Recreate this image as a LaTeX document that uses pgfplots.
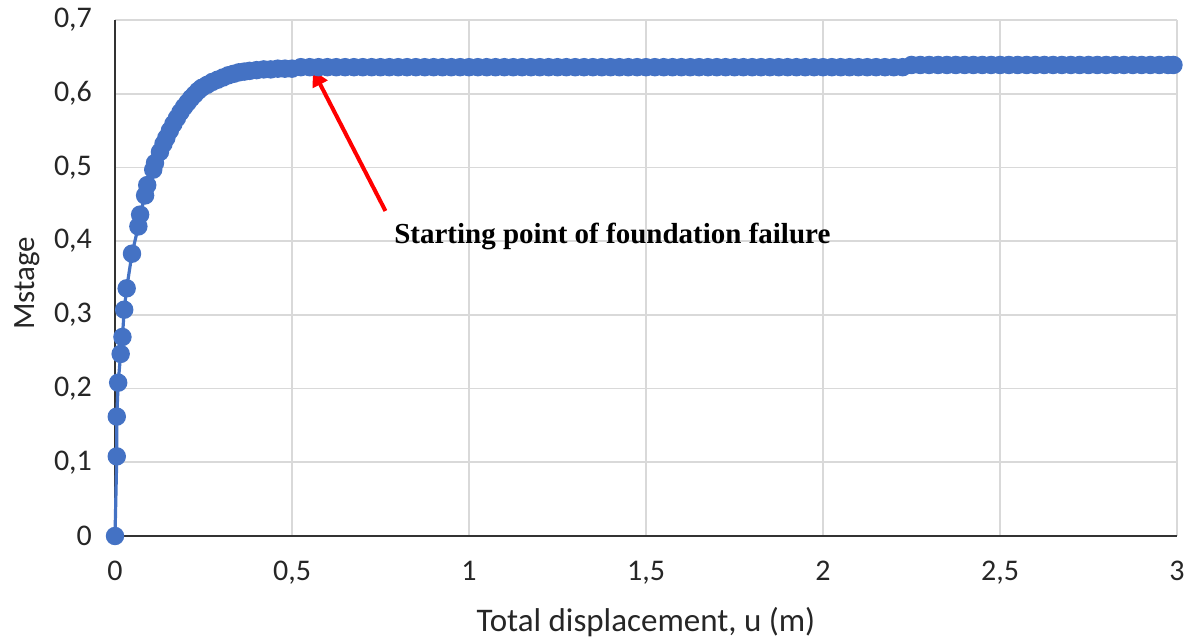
\documentclass[border=0pt]{standalone}
\usepackage{pgfplots}
\pgfplotsset{compat=1.18}
\usetikzlibrary{arrows.meta}
\usepackage{fontspec}
\setmainfont{Carlito}
\newfontfamily\timesfont{Liberation Serif}
\definecolor{excelblue}{HTML}{4472C4}
\definecolor{gridgray}{HTML}{D9D9D9}

\begin{document}
\begin{tikzpicture}
\path[use as bounding box] (-57.5pt,-53.5pt) rectangle (541.5pt,268pt);
\begin{axis}[
  scale only axis, width=531pt, height=258pt,
  xmin=0, xmax=3, ymin=0, ymax=0.7,
  xtick={0,0.5,1,1.5,2,2.5,3},
  ytick={0,0.1,0.2,0.3,0.4,0.5,0.6,0.7},
  grid=major, major grid style={gridgray, line width=0.8pt},
  axis x line*=bottom, axis y line*=left,
  axis line style={black!80, line width=1pt, -},
  major tick length=0pt,
  tick label style={font=\fontsize{15}{17}\selectfont, text=black!85},
  /pgf/number format/use comma,
  /pgf/number format/assume math mode=true,
  yticklabel style={xshift=-8pt},
  xticklabel style={yshift=-9pt},
  xlabel={Total displacement, u (m)},
  ylabel={Mstage},
  xlabel style={font=\fontsize{16.5}{19}\selectfont, text=black!85,
    at={(axis description cs:0.5,-0.167)}, anchor=center},
  ylabel style={font=\fontsize{15.5}{18}\selectfont, text=black!85,
    at={(axis description cs:-0.083,0.49)}, anchor=center, rotate=0},
  clip=false,
]
\addplot[excelblue, line width=1.6pt, mark=*, mark size=3.8pt,
  mark options={fill=excelblue, draw=excelblue}] coordinates {
(0,0) (0.005,0.108) (0.005,0.162) (0.009,0.208) (0.016,0.247) (0.021,0.270)
(0.026,0.307) (0.033,0.336) (0.048,0.383) (0.066,0.420) (0.071,0.436)
(0.085,0.462) (0.091,0.476) (0.108,0.497) (0.113,0.506) (0.127,0.521)
(0.137,0.532) (0.145,0.540) (0.155,0.550) (0.165,0.559) (0.175,0.567)
(0.185,0.575) (0.195,0.582) (0.205,0.588) (0.215,0.594) (0.225,0.599)
(0.235,0.604) (0.245,0.608) (0.260,0.612) (0.275,0.616) (0.290,0.619)
(0.305,0.622) (0.320,0.625) (0.335,0.627) (0.350,0.629) (0.365,0.630)
(0.380,0.631) (0.400,0.632) (0.420,0.633) (0.440,0.633) (0.460,0.634)
(0.480,0.634) (0.500,0.634)
(0.525,0.636) (0.550,0.636) (0.575,0.636) (0.600,0.636) (0.625,0.636)
(0.650,0.636) (0.675,0.636) (0.700,0.636) (0.725,0.636) (0.750,0.636)
(0.775,0.636) (0.800,0.636) (0.825,0.636) (0.850,0.636) (0.875,0.636)
(0.900,0.636) (0.925,0.636) (0.950,0.636) (0.975,0.636) (1.000,0.636)
(1.025,0.636) (1.050,0.636) (1.075,0.636) (1.100,0.636) (1.125,0.636)
(1.150,0.636) (1.175,0.636) (1.200,0.636) (1.225,0.636) (1.250,0.636)
(1.275,0.636) (1.300,0.636) (1.325,0.636) (1.350,0.636) (1.375,0.636)
(1.400,0.636) (1.425,0.636) (1.450,0.636) (1.475,0.636) (1.500,0.636)
(1.525,0.636) (1.550,0.636) (1.575,0.636) (1.600,0.636) (1.625,0.636)
(1.650,0.636) (1.675,0.636) (1.700,0.636) (1.725,0.636) (1.750,0.636)
(1.775,0.636) (1.800,0.636) (1.825,0.636) (1.850,0.636) (1.875,0.636)
(1.900,0.636) (1.925,0.636) (1.950,0.636) (1.975,0.636) (2.000,0.636)
(2.025,0.636) (2.050,0.636) (2.075,0.636) (2.100,0.636) (2.125,0.636)
(2.150,0.636) (2.175,0.636) (2.200,0.636) (2.225,0.636)
(2.250,0.639) (2.275,0.639) (2.300,0.639) (2.325,0.639) (2.350,0.639)
(2.375,0.639) (2.400,0.639) (2.425,0.639) (2.450,0.639) (2.475,0.639)
(2.500,0.639) (2.525,0.639) (2.550,0.639) (2.575,0.639) (2.600,0.639)
(2.625,0.639) (2.650,0.639) (2.675,0.639) (2.700,0.639) (2.725,0.639)
(2.750,0.639) (2.775,0.639) (2.800,0.639) (2.825,0.639) (2.850,0.639)
(2.875,0.639) (2.900,0.639) (2.925,0.639) (2.950,0.639) (2.975,0.639)
(2.990,0.639)
};
\draw[red, line width=2pt, -{Triangle[length=8pt, width=8pt]}]
  (axis cs:0.764,0.441) -- (axis cs:0.559,0.632);
\node[font=\timesfont\bfseries\fontsize{14.5}{17}\selectfont, anchor=center]
  at (axis cs:1.405,0.406) {Starting point of foundation failure};
\end{axis}
\end{tikzpicture}
\end{document}
